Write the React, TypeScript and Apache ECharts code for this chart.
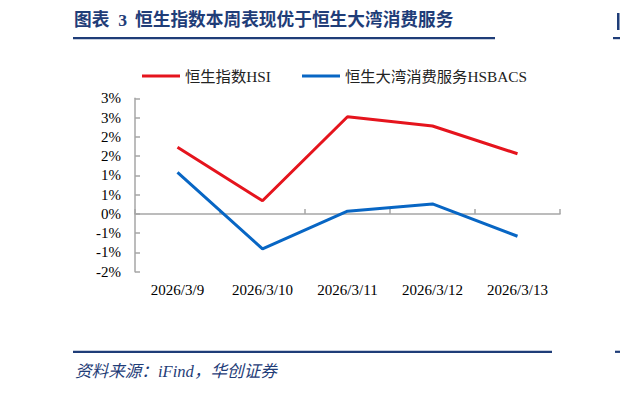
import React, { useEffect, useRef } from "react";
import * as echarts from "echarts";

const categories = ["2026/3/9", "2026/3/10", "2026/3/11", "2026/3/12", "2026/3/13"];
const hsiValues = [1.73, 0.34, 2.52, 2.28, 1.56];
const hsbacsValues = [1.08, -0.91, 0.07, 0.26, -0.58];
const seriesNames = ["恒生指数HSI", "恒生大湾消费服务HSBACS"];
const yMin = -1.5;
const yMax = 3;
const yStep = 0.5;

const titleLabel = "图表  3";
const titleText = "恒生指数本周表现优于恒生大湾消费服务";
const sourceText = "资料来源：iFind，华创证券";

const FONT = "'Liberation Serif', 'Noto Sans CJK SC', serif";
const NAVY = "#1F3D78";
const RED = "#E5141D";
const BLUE = "#0866C4";
const AXIS = "#A6A6A6";

function fmtPct(v: number): string {
  const r = Math.sign(v) * Math.round(Math.abs(v) + 1e-9);
  return (r === 0 ? 0 : r) + "%";
}

export default function App() {
  const ref = useRef<HTMLDivElement>(null);
  useEffect(() => {
    if (!ref.current) return;
    const chart = echarts.init(ref.current, undefined, { renderer: "svg" });
    chart.setOption({
      animation: false,
      backgroundColor: "#ffffff",
      grid: { left: 135, right: 60, top: 98.3, bottom: 121.3, containLabel: false },
      legend: [
        {
          data: [seriesNames[0]],
          left: 137,
          top: 63,
          icon: "rect",
          itemWidth: 38,
          itemHeight: 3,
          textStyle: { fontFamily: FONT, fontSize: 15.3, color: "#222", lineHeight: 16 },
        },
        {
          data: [seriesNames[1]],
          left: 297,
          top: 63,
          icon: "rect",
          itemWidth: 38,
          itemHeight: 3,
          textStyle: { fontFamily: FONT, fontSize: 15.3, color: "#222", lineHeight: 16 },
        },
      ],
      xAxis: [
        {
          type: "category",
          data: categories,
          boundaryGap: true,
          position: "bottom",
          axisLine: { show: false, onZero: false },
          axisTick: { show: false },
          axisLabel: { fontFamily: FONT, fontSize: 15, color: "#000", margin: 11 },
          splitLine: { show: false },
        },
        {
          type: "category",
          data: categories,
          boundaryGap: true,
          position: "bottom",
          axisLine: { show: true, onZero: true, lineStyle: { color: AXIS, width: 1.5 } },
          axisTick: { show: true, inside: true, length: 5, lineStyle: { color: AXIS, width: 1.5 } },
          axisLabel: { show: false },
          splitLine: { show: false },
        },
      ],
      yAxis: {
        type: "value",
        min: yMin,
        max: yMax,
        interval: yStep,
        axisLine: { show: true, lineStyle: { color: AXIS, width: 1.5 } },
        axisTick: { show: true, inside: true, length: 5, lineStyle: { color: AXIS, width: 1.5 } },
        axisLabel: { fontFamily: FONT, fontSize: 15, color: "#000", margin: 14, formatter: fmtPct },
        splitLine: { show: false },
      },
      series: [
        {
          name: seriesNames[0],
          type: "line",
          data: hsiValues,
          symbol: "none",
          color: RED,
          lineStyle: { color: RED, width: 3 },
        },
        {
          name: seriesNames[1],
          type: "line",
          data: hsbacsValues,
          symbol: "none",
          color: BLUE,
          lineStyle: { color: BLUE, width: 3 },
        },
      ],
      graphic: [
        {
          type: "text",
          left: 74,
          top: 11,
          style: { text: titleLabel, font: `bold 17.7px ${FONT}`, fill: NAVY },
        },
        {
          type: "text",
          left: 135,
          top: 11,
          style: { text: titleText, font: `bold 17.7px ${FONT}`, fill: NAVY },
        },
        { type: "rect", shape: { x: 73, y: 37, width: 422, height: 2.2 }, style: { fill: NAVY } },
        { type: "rect", shape: { x: 617, y: 13, width: 2.5, height: 17 }, style: { fill: NAVY } },
        { type: "rect", shape: { x: 613, y: 37, width: 7, height: 2.2 }, style: { fill: NAVY } },
        { type: "rect", shape: { x: 73, y: 350.7, width: 479, height: 2.2 }, style: { fill: NAVY } },
        { type: "rect", shape: { x: 615, y: 350.7, width: 5, height: 2.2 }, style: { fill: NAVY } },
        {
          type: "text",
          left: 75,
          top: 363.5,
          style: { text: sourceText, font: `italic 16.6px ${FONT}`, fill: NAVY },
        },
      ],
    });
    return () => chart.dispose();
  }, []);
  return (
    <div
      ref={ref}
      style={{ position: "fixed", left: 0, top: 0, width: 620, height: 393 }}
    />
  );
}
